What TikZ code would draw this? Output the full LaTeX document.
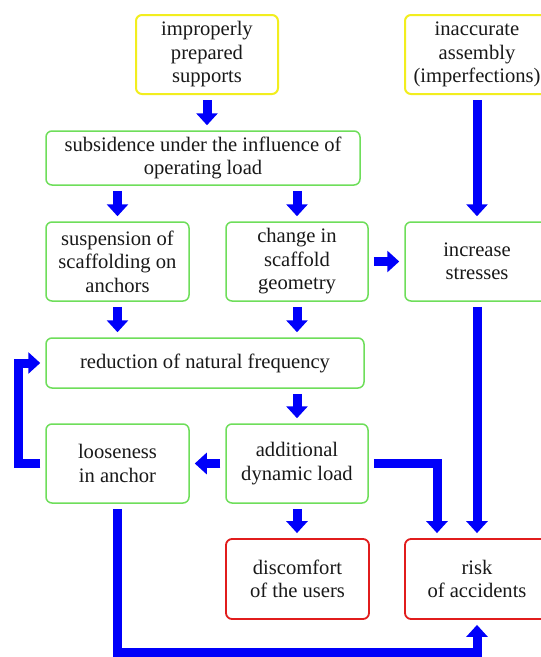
\documentclass[tikz,border=0pt]{standalone}
\usepackage{fontspec}
\setmainfont{Liberation Serif}
\usetikzlibrary{arrows.meta,calc}
\definecolor{boxgreen}{RGB}{110,222,90}
\definecolor{boxyellow}{RGB}{242,238,30}
\definecolor{boxred}{RGB}{225,28,28}
\definecolor{arrblue}{RGB}{0,0,250}
\definecolor{txt}{RGB}{25,25,25}
\begin{document}
\begin{tikzpicture}[x=1pt,y=1pt,
  basebox/.style={draw, rounded corners=6pt, line width=1.8pt, fill=white,
    inner sep=0pt, align=center, anchor=center, text=txt,
    font=\fontsize{20.6}{23.5}\selectfont},
  ybox/.style={basebox, draw=boxyellow, line width=2pt},
  gbox/.style={basebox, draw=boxgreen, line width=1.5pt},
  rbox/.style={basebox, draw=boxred},
  arr/.style={draw=arrblue, line width=9pt, line join=miter,
    -{Triangle[width=21pt,length=12pt]}, shorten <=5pt, shorten >=5pt}]
\clip (0,0) rectangle (541,-657);
\fill[white] (0,0) rectangle (541,-657);
% nodes
\node[ybox, minimum width=142pt, minimum height=79pt] (A) at (207,-54.5) {improperly\\prepared\\supports};
\node[ybox, minimum width=144pt, minimum height=79pt] (B) at (477,-54.5) {inaccurate\\assembly\\(imperfections)};
\node[gbox, minimum width=314pt, minimum height=54pt] (C) at (203,-158) {subsidence under the influence of\\operating load};
\node[gbox, minimum width=143pt, minimum height=79pt] (E) at (117.5,-261.5) {suspension of\\scaffolding on\\anchors};
\node[gbox, minimum width=142pt, minimum height=79pt] (F) at (297,-261.5) {change in\\scaffold\\geometry};
\node[gbox, minimum width=144pt, minimum height=79pt] (G) at (477,-261.5) {increase\\stresses};
\node[gbox, minimum width=318pt, minimum height=50pt] (H) at (205,-363) {reduction of natural frequency};
\node[gbox, minimum width=143pt, minimum height=79pt] (I) at (117.5,-463.5) {looseness\\in anchor};
\node[gbox, minimum width=142pt, minimum height=79pt] (J) at (297,-463.5) {additional\\dynamic load};
\node[rbox, minimum width=143pt, minimum height=80pt] (K) at (297.5,-579) {discomfort\\of the users};
\node[rbox, minimum width=144pt, minimum height=80pt] (L) at (477,-579) {risk\\of accidents};
% helper coordinates
\coordinate (jlc) at (437,-463.5);
\coordinate (bot) at (0,-652);
\coordinate (fb) at (18.5,0);
% connectors
\draw[arr] (A.south) -- (A.south |- C.north);
\draw[arr] (E.north |- C.south) -- (E.north);
\draw[arr] (F.north |- C.south) -- (F.north);
\draw[arr] (B.south) -- (G.north);
\draw[arr] (F.east) -- (F.east -| G.west);
\draw[arr] (E.south) -- (E.south |- H.north);
\draw[arr] (F.south) -- (F.south |- H.north);
\draw[arr] (J.north |- H.south) -- (J.north);
\draw[arr] (J.west) -- (J.west -| I.east);
\draw[arr] (J.south) -- (J.south |- K.north);
\draw[arr] (J.east) -- (jlc) -- (jlc |- L.north);
\draw[arr] (G.south) -- (L.north);
\draw[arr] (I.west) -- (fb |- I.west) -- (fb |- H.west) -- (H.west);
\draw[arr] (I.south) -- (I.south |- bot) -- (L.south |- bot) -- (L.south);
\end{tikzpicture}
\end{document}
